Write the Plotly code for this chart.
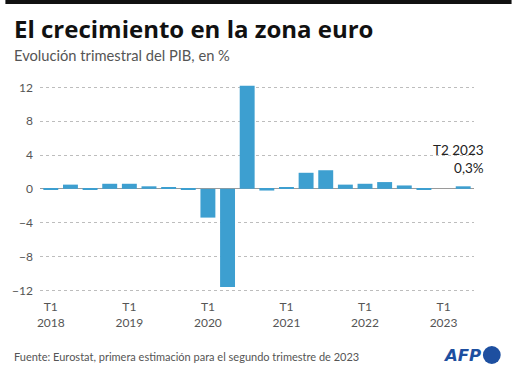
import plotly.graph_objects as go

# Data
quarters = ["T1 2018","T2 2018","T3 2018","T4 2018",
            "T1 2019","T2 2019","T3 2019","T4 2019",
            "T1 2020","T2 2020","T3 2020","T4 2020",
            "T1 2021","T2 2021","T3 2021","T4 2021",
            "T1 2022","T2 2022","T3 2022","T4 2022",
            "T1 2023","T2 2023"]
gdp_growth = [-0.1, 0.5, -0.1, 0.6,
              0.6, 0.3, 0.2, -0.1,
              -3.4, -11.6, 12.2, -0.2,
              0.2, 1.9, 2.2, 0.5,
              0.6, 0.8, 0.4, -0.1,
              0.0, 0.3]
x_tick_vals = ["T1 2018", "T1 2019", "T1 2020", "T1 2021", "T1 2022", "T1 2023"]
x_tick_text = ["T1<br>2018", "T1<br>2019", "T1<br>2020", "T1<br>2021", "T1<br>2022", "T1<br>2023"]
y_ticks = [-12, -8, -4, 0, 4, 8, 12]

W, H = 512, 373
ML, MR, MT, MB = 35, 38, 84, 81
PW, PH = W - ML - MR, H - MT - MB

def px(x):
    return (x - ML) / PW

def py(y):
    return (H - MB - y) / PH

FONT = "Lato"
BAR = "#3d9fd0"

fig = go.Figure(go.Bar(
    x=quarters, y=gdp_growth, marker_color=BAR, marker_line_width=0,
    width=0.76, hoverinfo="skip"))

fig.update_layout(
    width=W, height=H, margin=dict(l=ML, r=MR, t=MT, b=MB),
    paper_bgcolor="white", plot_bgcolor="white", showlegend=False,
    font=dict(family=FONT, color="#555555", size=12),
)
fig.update_xaxes(
    type="category", categoryorder="array", categoryarray=quarters,
    tickmode="array", tickvals=x_tick_vals, ticktext=x_tick_text,
    showgrid=False, showline=False, zeroline=False, ticks="",
    tickfont=dict(size=12, color="#555555"), ticklabelstandoff=6,
    range=[-0.55, len(quarters) - 0.45],
)
fig.update_yaxes(
    range=[-12.2, 12.4], tickvals=y_ticks, ticks="",
    showgrid=True, gridcolor="#bdbdbd", griddash="dot", gridwidth=1,
    zeroline=True, zerolinecolor="#9a9a9a", zerolinewidth=1,
    showline=False, tickfont=dict(size=12, color="#555555"),
    ticklabelstandoff=6,
)

shapes = [
    dict(type="rect", xref="paper", yref="paper", x0=px(0), x1=px(180),
         y0=py(4), y1=py(0), fillcolor="#111111", line_width=0),
    dict(type="rect", xref="paper", yref="paper", x0=px(179), x1=px(350),
         y0=py(4), y1=py(0), fillcolor="#111111", line_width=0),
    dict(type="rect", xref="paper", yref="paper", x0=px(349), x1=px(W),
         y0=py(4), y1=py(0), fillcolor="#111111", line_width=0),
    dict(type="circle", xref="paper", yref="paper", x0=px(483), x1=px(501),
         y0=py(364), y1=py(346), fillcolor="#1d4fa0", line_width=0),
]
fig.update_layout(shapes=shapes)

annotations = [
    dict(text="<b>El crecimiento en la zona euro</b>", xref="paper", yref="paper",
         x=px(7), y=py(28), xanchor="left", yanchor="middle", showarrow=False,
         font=dict(size=24, color="#111111", family="Open Sans")),
    dict(text="Evolución trimestral del PIB, en %", xref="paper", yref="paper",
         x=px(7), y=py(55), xanchor="left", yanchor="middle", showarrow=False,
         font=dict(size=14.7, color="#555555", family=FONT)),
    dict(text="Fuente: Eurostat, primera estimación para el segundo trimestre de 2023",
         xref="paper", yref="paper", x=px(7), y=py(356), xanchor="left",
         yanchor="middle", showarrow=False,
         font=dict(size=11, color="#555555", family=FONT)),
    dict(text="<b><i>AFP</i></b>", xref="paper", yref="paper", x=px(483), y=py(355),
         xanchor="right", yanchor="middle", showarrow=False,
         font=dict(size=16.5, color="#1d4fa0", family="DejaVu Sans")),
    dict(text="T2 2023<br>0,3%", xref="x", yref="paper", x=quarters[-1], xshift=23,
         y=py(159), xanchor="right", yanchor="middle", align="right",
         showarrow=False, font=dict(size=13.5, color="#222222", family=FONT)),
]
fig.update_layout(annotations=annotations)

fig.write_html("out.html", config={"displayModeBar": False},
               post_script="document.body.style.margin='0';")
